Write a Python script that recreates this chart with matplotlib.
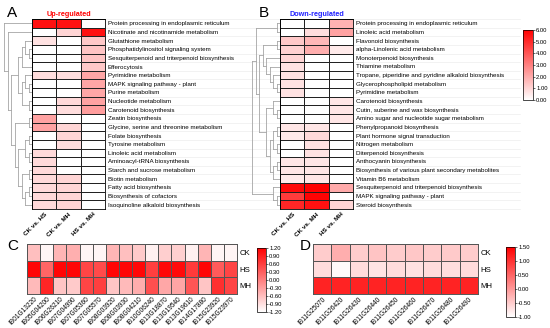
import numpy as np
import matplotlib.pyplot as plt
from matplotlib.colors import LinearSegmentedColormap

plt.rcParams['font.family'] = ['Liberation Sans', 'DejaVu Sans']

W, H = 550, 328

# ---- data ----
comparisons = ['CK vs. HS', 'CK vs. MH', 'HS vs. MH']
groups = ['CK', 'HS', 'MH']

up_paths = ['Protein processing in endoplasmic reticulum', 'Nicotinate and nicotinamide metabolism',
            'Glutathione metabolism', 'Phosphatidylinositol signaling system',
            'Sesquiterpenoid and triterpenoid biosynthesis', 'Efferocytosis', 'Pyrimidine metabolism',
            'MAPK signaling pathway - plant', 'Purine metabolism', 'Nucleotide metabolism',
            'Carotenoid biosynthesis', 'Zeatin biosynthesis', 'Glycine, serine and threonine metabolism',
            'Folate biosynthesis', 'Tyrosine metabolism', 'Linoleic acid metabolism',
            'Aminoacyl-tRNA biosynthesis', 'Starch and sucrose metabolism', 'Biotin metabolism',
            'Fatty acid biosynthesis', 'Biosynthesis of cofactors', 'Isoquinoline alkaloid biosynthesis']
up_ck_hs = [5.6, 0.0, 0.7, 0.0, 0.0, 0.0, 0.8, 0.0, 0.0, 0.0, 0.0, 2.2, 2.2, 0.0, 0.0, 0.9, 0.9, 0.9, 0.9, 0.9, 0.9, 0.9]
up_ck_mh = [5.6, 1.0, 0.0, 0.0, 0.0, 0.0, 0.8, 0.0, 0.0, 0.9, 0.8, 0.0, 1.0, 1.0, 0.8, 0.0, 0.0, 0.0, 1.0, 1.0, 1.0, 1.0]
up_hs_mh = [0.0, 5.6, 1.3, 1.4, 1.4, 1.3, 2.1, 2.1, 2.1, 2.2, 2.3, 0.0, 0.0, 0.0, 0.0, 0.0, 0.0, 0.0, 0.0, 0.0, 0.0, 0.0]

down_paths = ['Protein processing in endoplasmic reticulum', 'Linoleic acid metabolism', 'Flavonoid biosynthesis',
              'alpha-Linolenic acid metabolism', 'Monoterpenoid biosynthesis', 'Thiamine metabolism',
              'Tropane, piperidine and pyridine alkaloid biosynthesis', 'Glycerophospholipid metabolism',
              'Pyrimidine metabolism', 'Carotenoid biosynthesis', 'Cutin, suberine and wax biosynthesis',
              'Amino sugar and nucleotide sugar metabolism', 'Phenylpropanoid biosynthesis',
              'Plant hormone signal transduction', 'Nitrogen metabolism', 'Diterpenoid biosynthesis',
              'Anthocyanin biosynthesis', 'Biosynthesis of various plant secondary metabolites',
              'Vitamin B6 metabolism', 'Sesquiterpenoid and triterpenoid biosynthesis',
              'MAPK signaling pathway - plant', 'Steroid biosynthesis']
down_ck_hs = [0.0, 0.0, 1.3, 1.1, 1.0, 0.7, 0.7, 0.7, 0.7, 0.0, 0.0, 0.0, 0.6, 0.5, 0.0, 0.0, 0.6, 0.6, 0.5, 5.8, 4.6, 5.1]
down_ck_mh = [0.0, 0.8, 1.7, 1.9, 0.0, 0.0, 0.0, 0.0, 0.0, 0.0, 0.0, 0.0, 0.6, 0.9, 0.7, 0.7, 0.6, 0.6, 0.6, 6.0, 5.9, 5.6]
down_hs_mh = [1.8, 2.2, 0.0, 0.5, 0.0, 0.0, 0.0, 0.0, 0.0, 0.6, 0.6, 0.6, 0.0, 0.0, 0.0, 0.0, 0.0, 0.0, 0.0, 2.0, 0.0, 1.0]

# row clustering trees (leaf = row index)
up_tree = (0, (1, ((((2, (3, 4)), 5), ((6, (7, 8)), (9, 10))),
                   ((11, 12), (((13, 14), (15, 16)), ((17, 18), ((19, 20), 21)))))))
down_tree = (((0, 1), ((((2, 3), (4, (5, (6, (7, 8))))),
                        ((9, (10, 11)), (((12, 13), (14, 15)), ((16, 17), 18)))))),
             (19, (20, 21)))

genes_c = ['IB01G13220', 'IB05G04200', 'IB06G26210', 'IB07G04990', 'IB07G05360', 'IB07G05570',
           'IB08G03920', 'IB08G03930', 'IB08G04210', 'IB10G06240', 'IB13G18870', 'IB13G19540',
           'IB13G19610', 'IB14G17880', 'IB15G23920', 'IB15G23970']
c_ck = [-0.60, -1.10, -0.50, -0.45, -1.10, -1.10, -0.50, -0.60, -0.70, -1.05, -0.75, -0.75, -1.05, -0.50, -1.10, -1.10]
c_hs = [1.15, 0.25, 1.15, 1.15, 0.55, 0.50, 1.15, 1.15, 1.13, 0.60, 1.12, 1.10, 0.65, 1.15, 0.35, 0.55]
c_mh = [-0.55, 0.85, -0.65, -0.70, 0.55, 0.60, -0.65, -0.55, -0.43, 0.45, -0.37, -0.35, 0.40, -0.65, 0.75, 0.55]

genes_d = ['IB11G25070', 'IB11G26420', 'IB11G26430', 'IB11G26440', 'IB11G26450', 'IB11G26460',
           'IB11G26470', 'IB11G26480', 'IB11G26490']
d_ck = [-0.50, -0.20, -0.50, -0.42, -0.50, -0.45, -0.50, -0.48, -0.50]
d_hs = [-0.65, -0.95, -0.65, -0.73, -0.65, -0.70, -0.65, -0.67, -0.65]
d_mh = [1.15, 1.15, 1.15, 1.15, 1.15, 1.15, 1.15, 1.15, 1.15]

cmap = LinearSegmentedColormap.from_list('wr', ['#ffffff', '#ff0000'])

fig = plt.figure(figsize=(W / 100, H / 100), dpi=100)


def px_axes(x0, y0, x1, y1, **kw):
    return fig.add_axes([x0 / W, 1 - y1 / H, (x1 - x0) / W, (y1 - y0) / H], **kw)


# faint row guide lines behind panels A / B
bg = px_axes(0, 0, W, H, zorder=-5)
bg.set_xlim(0, W)
bg.set_ylim(H, 0)
bg.axis('off')
for i in range(23):
    yy = 19 + i * 190 / 22
    bg.plot([105, 520], [yy, yy], color='#e8e8e8', lw=0.4)


def dendro(ax, tree, nrows):
    def walk(node):
        if isinstance(node, int):
            return node + 0.5, 0
        pts = [walk(ch) for ch in node]
        h = max(p[1] for p in pts) + 1
        ys = [p[0] for p in pts]
        for y, hc in pts:
            ax.plot([hc, h], [y, y], color='#a5a5a5', lw=0.6)
        ax.plot([h, h], [min(ys), max(ys)], color='#a5a5a5', lw=0.6)
        return (min(ys) + max(ys)) / 2, h
    y, h = walk(tree)
    ax.set_xlim(h + 0.05, 0)
    ax.set_ylim(nrows, 0)
    ax.axis('off')


def enrich_panel(box, dbox, paths, cols, tree, title, tcolor):
    data = np.array(cols).T
    ax = px_axes(*box)
    ax.pcolormesh(data, cmap=cmap, vmin=0, vmax=6, edgecolors='#222222', linewidth=0.5)
    ax.set_xlim(0, 3)
    ax.set_ylim(len(paths), 0)
    ax.yaxis.tick_right()
    ax.set_yticks(np.arange(len(paths)) + 0.5)
    ax.set_yticklabels(paths, fontsize=4.5)
    ax.set_xticks(np.arange(3) + 0.5)
    ax.set_xticklabels(comparisons, rotation=45, ha='right', rotation_mode='anchor',
                       fontsize=4.6, fontweight='bold')
    ax.tick_params(length=0, pad=2)
    for s in ax.spines.values():
        s.set_linewidth(0.6)
    ax.set_title(title, color=tcolor, fontsize=5.2, fontweight='bold', pad=2.5)
    dax = px_axes(*dbox)
    dendro(dax, tree, len(paths))
    return ax


def expr_panel(box, genes, rows, vmin, vmax):
    data = np.array(rows)
    ax = px_axes(*box)
    ax.pcolormesh(data, cmap=cmap, vmin=vmin, vmax=vmax, edgecolors='#555555', linewidth=0.7)
    ax.set_xlim(0, len(genes))
    ax.set_ylim(3, 0)
    ax.yaxis.tick_right()
    ax.set_yticks(np.arange(3) + 0.5)
    ax.set_yticklabels(groups, fontsize=5.6)
    ax.set_xticks(np.arange(len(genes)) + 0.5)
    ax.set_xticklabels(genes, rotation=45, ha='right', rotation_mode='anchor', fontsize=4.7)
    ax.tick_params(axis='y', length=0, pad=2)
    ax.tick_params(axis='x', length=0, pad=1.2)
    for s in ax.spines.values():
        s.set_linewidth(0.7)
        s.set_color('#555555')
    return ax


def cbar(box, vmin, vmax, ticks):
    cax = px_axes(*box)
    sm = plt.cm.ScalarMappable(cmap=cmap, norm=plt.Normalize(vmin, vmax))
    cb = fig.colorbar(sm, cax=cax, ticks=ticks, format='%.2f')
    cb.outline.set_linewidth(0.5)
    cax.tick_params(labelsize=4.2, length=1.5, width=0.4, pad=0.8)


enrich_panel((32, 19, 105, 209), (4, 19, 32, 209), up_paths,
             [up_ck_hs, up_ck_mh, up_hs_mh], up_tree, 'Up-regulated', '#ff0000')
enrich_panel((280, 19, 353, 209), (252, 19, 280, 209), down_paths,
             [down_ck_hs, down_ck_mh, down_hs_mh], down_tree, 'Down-regulated', '#2020ff')
cbar((523, 30, 533, 100), 0, 6, np.arange(0, 6.01, 1))

expr_panel((27, 244, 237, 294), genes_c, [c_ck, c_hs, c_mh], -1.2, 1.2)
cbar((257, 248, 266, 312), -1.2, 1.2, np.arange(-1.2, 1.21, 0.3))

expr_panel((313, 244, 478, 294), genes_d, [d_ck, d_hs, d_mh], -1.0, 1.5)
cbar((506, 247, 515, 317), -1.0, 1.5, np.arange(-1.0, 1.51, 0.5))

for letter, x, y in [('A', 7, 17), ('B', 259, 17), ('C', 7, 250), ('D', 300, 250)]:
    fig.text(x / W, 1 - y / H, letter, fontsize=11)

fig.savefig('out.png', dpi=100)
